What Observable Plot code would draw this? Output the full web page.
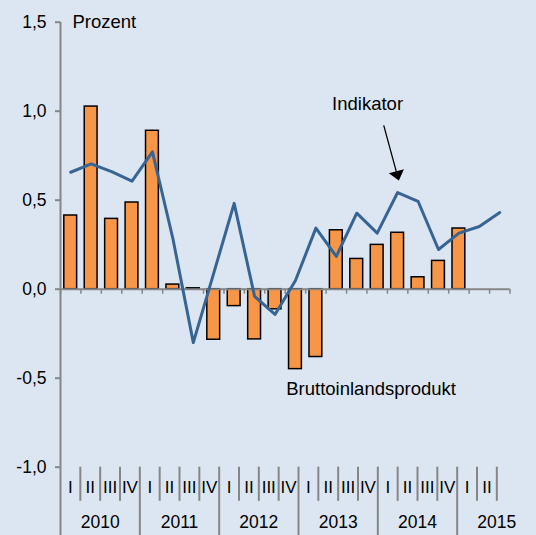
<!DOCTYPE html>
<html><head><meta charset="utf-8">
<script src="https://cdn.jsdelivr.net/npm/d3@7"></script>
<script src="https://cdn.jsdelivr.net/npm/@observablehq/plot@0.6"></script>
<style>
html,body{margin:0;padding:0;background:#dce6f2;}
#chart{position:relative;width:536px;height:535px;overflow:hidden;background:#dce6f2;}
#chart svg{position:absolute;left:0;top:0;}
</style></head><body><div id="chart"></div>
<script>
// ---- data ----
const years = [2010, 2011, 2012, 2013, 2014, 2015];
const quarterNames = ["I", "II", "III", "IV"];
const nPeriods = 22; // 2010 I .. 2015 II
const gdp = [0.414, 1.026, 0.395, 0.487, 0.89, 0.026, 0.005, -0.284, -0.095, -0.282,
             -0.113, -0.449, -0.381, 0.331, 0.17, 0.249, 0.317, 0.067, 0.159, 0.341];
const indicator = [0.657, 0.704, 0.66, 0.607, 0.772, 0.285, -0.3, 0.09, 0.482, -0.041,
                   -0.142, 0.049, 0.343, 0.184, 0.427, 0.315, 0.543, 0.494, 0.223, 0.315,
                   0.352, 0.431];
const yTicks = [-1, -0.5, 0, 0.5, 1, 1.5];
const labels = [
  {text: "Indikator", x: 15.03, y: 1.04},
  {text: "Bruttoinlandsprodukt", x: 15.2, y: -0.56}
];
const arrowShaft = [{x1: 15.82, y1: 0.92, x2: 16.45, y2: 0.655}];
const arrowHead = [{x: 16.56, y: 0.611}];

// ---- derived tables ----
const periods = [];
years.forEach(y => quarterNames.forEach(q => periods.push({year: y, q})));
periods.length = nPeriods;
const gdpData = gdp.map((v, i) => ({i, v}));
const indData = indicator.map((v, i) => ({i, v}));
const fmt = d => d.toFixed(1).replace(".", ",");

const W = 536, H = 535;
const grey = "#868686";
const font = "'Liberation Sans', Arial, sans-serif";
const headSymbol = {draw(ctx) { ctx.moveTo(0, 0); ctx.lineTo(7.8, 9.5); ctx.lineTo(-7.8, 9.5); ctx.closePath(); }};

const main = Plot.plot({
  width: W, height: H,
  marginLeft: 60, marginRight: 26.5, marginTop: 21.7, marginBottom: 68.3,
  style: {background: "transparent", fontFamily: font, fontSize: "17.5px", color: "#000", overflow: "visible"},
  x: {type: "linear", domain: [0, nPeriods], axis: null},
  y: {domain: [-1, 1.5], axis: null},
  marks: [
    Plot.ruleX([0], {y1: -1, y2: 1.5, stroke: grey, strokeWidth: 2}),
    Plot.axisY({ticks: yTicks, tickFormat: fmt, tickSize: 5, tickPadding: 9, stroke: grey, strokeWidth: 2, fill: "#000", fontSize: 17.5, label: null}),
    Plot.rectY(gdpData, {x1: d => d.i, x2: d => d.i + 1, y1: 0, y2: "v", insetLeft: 3.8, insetRight: 3.8,
      fill: "#f79646", stroke: "#000", strokeWidth: 1.5}),
    Plot.ruleY([0], {x1: 0, x2: nPeriods, stroke: grey, strokeWidth: 2}),
    Plot.ruleX(d3.range(nPeriods + 1), {y: 0, insetBottom: -5, stroke: grey, strokeWidth: 1.5}),
    Plot.line(indData, {x: d => d.i + 0.5, y: "v", stroke: "#386494", strokeWidth: 3}),
    Plot.text(["Prozent"], {frameAnchor: "top-left", dx: 12, dy: -6.9, textAnchor: "start", fontSize: 18.5, fill: "#000"}),
    Plot.text(labels, {x: "x", y: "y", text: "text", fontSize: 18.5, fill: "#000"}),
    Plot.link(arrowShaft, {x1: "x1", y1: "y1", x2: "x2", y2: "y2", stroke: "#000", strokeWidth: 1.3}),
    Plot.dot(arrowHead, {x: "x", y: "y", symbol: headSymbol, fill: "#000", stroke: "none", rotate: 165})
  ]
});

const qBounds = d3.range(1, nPeriods + 1).filter(k => k % 4 !== 0);
const yBounds = years.map((y, j) => 4 * j).filter(k => k <= nPeriods);
const axis = Plot.plot({
  width: W, height: H,
  marginLeft: 60, marginRight: 0, marginTop: 466.7, marginBottom: 0,
  style: {background: "transparent", fontFamily: font, fontSize: "17.5px", color: "#000", overflow: "visible"},
  x: {type: "linear", domain: [0, 24], axis: null},
  y: {domain: [0, 2], reverse: true, axis: null},
  marks: [
    Plot.ruleX(qBounds, {y1: 0, y2: 1, stroke: grey, strokeWidth: 2}),
    Plot.ruleX(yBounds, {y1: 0, y2: 2, stroke: grey, strokeWidth: 2}),
    Plot.text(periods, {x: (d, i) => i + 0.5, y: 0.6, text: "q", fontSize: 17, fill: "#000"}),
    Plot.text(years, {x: (d, j) => 4 * j + 2, y: 1.63, text: d => String(d), fontSize: 17.5, fill: "#000"})
  ]
});

const el = document.getElementById("chart");
el.appendChild(main);
el.appendChild(axis);
</script>
</body></html>
